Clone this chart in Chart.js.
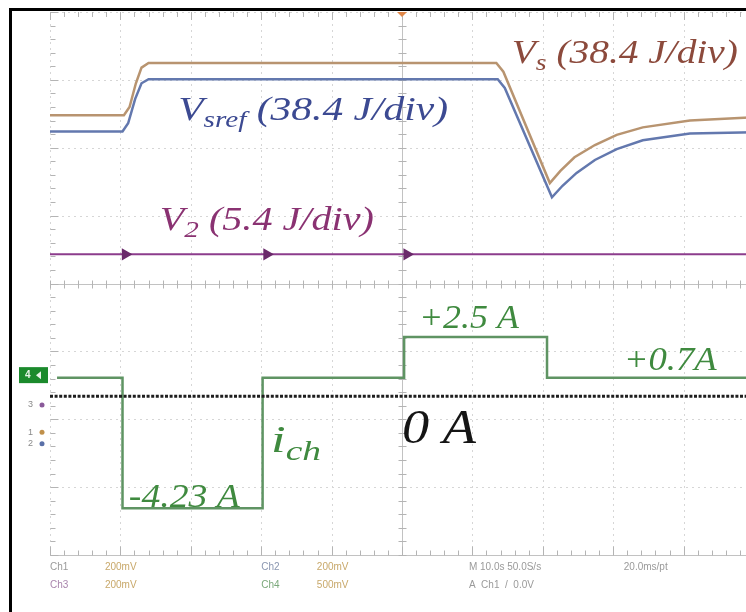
<!DOCTYPE html>
<html>
<head>
<meta charset="utf-8">
<script src="https://cdn.jsdelivr.net/npm/chart.js@4.4.1/dist/chart.umd.min.js"></script>
<style>
  html, body { margin: 0; padding: 0; background: #fff; }
  body { width: 746px; height: 612px; overflow: hidden; position: relative; }
  #wrap { position: absolute; left: 0; top: 0; width: 770px; height: 612px; }
  #frame { position: absolute; left: 9px; top: 8px; right: -20px; bottom: -20px;
           border-left: 3px solid #000; border-top: 3px solid #000; pointer-events: none; }
</style>
</head>
<body>
<div id="wrap"><canvas id="scope"></canvas></div>
<div id="frame"></div>
<script>
// time axis in seconds (10 s/div), levels in screen divisions (8 div high)
const xDivisions = [0, 10, 20, 30, 40, 50, 60, 70, 80, 90, 100];
const yDivisions = [-4, -3, -2, -1, 0, 1, 2, 3, 4];

// V_s trace
const vsTime  = [0, 10.5, 11.3, 12.2, 13.0, 14.0, 63.4, 64.4, 71.0, 72.5, 74.5, 77.4, 80.5, 84.2, 90.9, 100];
const vsLevel = [2.48, 2.48, 2.60, 2.95, 3.18, 3.25, 3.25, 3.12, 1.48, 1.66, 1.86, 2.04, 2.19, 2.30, 2.40, 2.45];

// V_sref trace
const vsrefTime  = [0, 10.3, 11.1, 12.1, 13.0, 14.0, 63.6, 64.6, 71.3, 72.8, 74.8, 77.4, 80.5, 84.2, 90.9, 100];
const vsrefLevel = [2.24, 2.24, 2.36, 2.72, 2.95, 3.01, 3.01, 2.88, 1.27, 1.44, 1.63, 1.82, 1.98, 2.11, 2.21, 2.23];

// V_2 trace (flat) with the arrow marks
const v2Time   = [0, 10.7, 30.8, 50.7, 100];
const v2Level  = [0.43, 0.43, 0.43, 0.43, 0.43];
const v2Arrows = [0, 5, 5, 5, 0];

// i_ch (stepped; each value holds until the next time)
const ichTime  = [1.0, 10.3, 30.2, 50.3, 70.6, 100];
const ichLevel = [-1.39, -3.31, -1.39, -0.79, -1.39, -1.39];

// 0 A reference
const zeroTime  = [0, 100];
const zeroLevel = [-1.66, -1.66];

const pts = (xs, ys) => xs.map((t, i) => ({ x: t, y: ys[i] }));

// annotations placed in data coordinates, fitted to a width in px
const notes = [
  { t: 65.6, v: 3.25, main: 'V', sub: 's', rest: ' (38.4 J/div)', color: '#8c4a3c', size: 34, w: 226 },
  { t: 18.2, v: 2.41, main: 'V', sub: 'sref', rest: ' (38.4 J/div)', color: '#3c4a92', size: 34, w: 270 },
  { t: 15.6, v: 0.79, main: 'V', sub: '2', rest: ' (5.4 J/div)', color: '#8a3272', size: 33, w: 214 },
  { t: 52.4, v: -0.66, main: '+2.5 A', color: '#3f8a3f', size: 34, w: 100 },
  { t: 81.5, v: -1.27, main: '+0.7A', color: '#3f8a3f', size: 34, w: 93 },
  { t: 50.0, v: -2.35, main: '0 A', color: '#151515', size: 48, w: 74 },
  { t: 31.4, v: -2.48, main: 'i', sub: 'ch', color: '#3f8a3f', size: 38, w: 50 },
  { t: 11.2, v: -3.29, main: '-4.23 A', color: '#3f8a3f', size: 34, w: 111 }
];

const statusRows = [
  { t: 0,    row: 0, text: 'Ch1',   color: '#9a9a9a' },
  { t: 7.8,  row: 0, text: '200mV', color: '#c8a86a' },
  { t: 0,    row: 1, text: 'Ch3',   color: '#a884ac' },
  { t: 7.8,  row: 1, text: '200mV', color: '#c8a86a' },
  { t: 30.0, row: 0, text: 'Ch2',   color: '#8a96b0' },
  { t: 37.9, row: 0, text: '200mV', color: '#c8a86a' },
  { t: 30.0, row: 1, text: 'Ch4',   color: '#7aa87a' },
  { t: 37.9, row: 1, text: '500mV', color: '#c8a86a' },
  { t: 59.5, row: 0, text: 'M 10.0s 50.0S/s', color: '#9a9a9a' },
  { t: 81.5, row: 0, text: '20.0ms/pt', color: '#9a9a9a' },
  { t: 59.5, row: 1, text: 'A  Ch1  /  0.0V', color: '#9a9a9a' }
];

const scopeGrid = {
  id: 'scopeGrid',
  beforeDatasetsDraw(chart) {
    const { ctx, chartArea: a, scales: { x, y } } = chart;
    const seg = (x1, y1, x2, y2) => { ctx.beginPath(); ctx.moveTo(x1, y1); ctx.lineTo(x2, y2); ctx.stroke(); };
    ctx.save();
    ctx.lineWidth = 1;
    // dotted major grid
    ctx.strokeStyle = '#d6d6d6';
    ctx.setLineDash([2, 4]);
    xDivisions.forEach(t => { const px = Math.round(x.getPixelForValue(t)) + 0.5; seg(px, a.top, px, a.bottom); });
    yDivisions.forEach(v => { const py = Math.round(y.getPixelForValue(v)) + 0.5; seg(a.left, py, a.right, py); });
    ctx.setLineDash([]);

    const cx = Math.round(x.getPixelForValue(50)) + 0.5;
    const cy = Math.round(y.getPixelForValue(0)) + 0.5;
    const bottom = Math.round(y.getPixelForValue(-4)) + 0.5;
    const left = Math.round(x.getPixelForValue(0)) + 0.5;
    ctx.strokeStyle = '#c2c2c2';
    seg(cx, a.top, cx, a.bottom);
    seg(a.left, cy, a.right, cy);
    seg(a.left, bottom, a.right, bottom);

    ctx.strokeStyle = '#b4b4b4';
    for (let t = 0; t <= 100; t += 2) {
      const px = Math.round(x.getPixelForValue(t)) + 0.5;
      const big = t % 10 === 0;
      seg(px, cy - 4, px, cy + 4);
      seg(px, bottom, px, bottom - (big ? 9 : 5));
      seg(px, a.top, px, a.top + (big ? 8 : 5));
    }
    for (let k = -20; k <= 20; k++) {
      const py = Math.round(y.getPixelForValue(k / 5)) + 0.5;
      seg(cx - 4, py, cx + 4, py);
      seg(left, py, left + (k % 5 === 0 ? 8 : 5), py);
    }
    ctx.restore();
  },
  afterDatasetsDraw(chart) {
    const { ctx, chartArea: a, scales: { x, y } } = chart;
    ctx.save();

    // trace annotations
    notes.forEach(n => {
      const px = x.getPixelForValue(n.t), py = y.getPixelForValue(n.v);
      const mainFont = `italic ${n.size}px "Liberation Serif"`;
      const subFont = `italic ${Math.round(n.size * 0.72)}px "Liberation Serif"`;
      ctx.font = mainFont;
      let width = ctx.measureText(n.main).width;
      if (n.sub) { ctx.font = subFont; width += ctx.measureText(n.sub).width; }
      if (n.rest) { ctx.font = mainFont; width += ctx.measureText(n.rest).width; }
      ctx.save();
      ctx.translate(px, py);
      ctx.scale(n.w / width, 1);
      ctx.fillStyle = n.color;
      ctx.textBaseline = 'alphabetic';
      ctx.font = mainFont;
      ctx.fillText(n.main, 0, 0);
      let cxp = ctx.measureText(n.main).width;
      if (n.sub) {
        ctx.font = subFont;
        ctx.fillText(n.sub, cxp, n.size * 0.22);
        cxp += ctx.measureText(n.sub).width;
      }
      if (n.rest) { ctx.font = mainFont; ctx.fillText(n.rest, cxp, 0); }
      ctx.restore();
    });

    // status text under the graticule
    ctx.font = '10px "Liberation Sans"';
    ctx.textBaseline = 'middle';
    statusRows.forEach(s => {
      ctx.fillStyle = s.color;
      ctx.fillText(s.text, x.getPixelForValue(s.t), a.bottom + 12 + s.row * 18);
    });

    // channel ground markers on the left
    const gy = y.getPixelForValue(-1.35);
    ctx.fillStyle = '#1b8a2c';
    ctx.fillRect(a.left - 31, gy - 8, 29, 16);
    ctx.fillStyle = '#e8f4e8';
    ctx.font = 'bold 10px "Liberation Sans"';
    ctx.fillText('4', a.left - 25, gy);
    ctx.beginPath();
    ctx.moveTo(a.left - 9, gy - 4); ctx.lineTo(a.left - 14, gy); ctx.lineTo(a.left - 9, gy + 4);
    ctx.fill();
    [[-1.79, '3', '#8a5a9a'], [-2.19, '1', '#c0904a'], [-2.36, '2', '#5a70a8']].forEach(([v, lab, col]) => {
      const py = y.getPixelForValue(v);
      ctx.font = '9px "Liberation Sans"';
      ctx.fillStyle = '#8a8a8a';
      ctx.fillText(lab, a.left - 22, py);
      ctx.fillStyle = col;
      ctx.beginPath(); ctx.arc(a.left - 8, py, 2.5, 0, Math.PI * 2); ctx.fill();
    });

    // trigger position mark at the top
    const tx = x.getPixelForValue(50);
    ctx.fillStyle = '#e0884a';
    ctx.beginPath(); ctx.moveTo(tx - 5, a.top); ctx.lineTo(tx + 5, a.top); ctx.lineTo(tx, a.top + 5); ctx.fill();
    ctx.restore();
  }
};

new Chart(document.getElementById('scope'), {
  type: 'line',
  data: {
    datasets: [
      { label: 'zero', data: pts(zeroTime, zeroLevel), borderColor: '#1e1e1e', borderWidth: 3,
        borderDash: [3, 1.6], pointRadius: 0 },
      { label: 'V2', data: pts(v2Time, v2Level), borderColor: '#8c3c8c', borderWidth: 2,
        pointRadius: v2Arrows, pointStyle: 'triangle', rotation: 90,
        pointBackgroundColor: '#6a2a6a', pointBorderColor: '#6a2a6a' },
      { label: 'Vsref', data: pts(vsrefTime, vsrefLevel), borderColor: '#6378ae', borderWidth: 2.5, pointRadius: 0 },
      { label: 'Vs', data: pts(vsTime, vsLevel), borderColor: '#b89470', borderWidth: 2.5, pointRadius: 0 },
      { label: 'ich', data: pts(ichTime, ichLevel), borderColor: '#5f9463', borderWidth: 2.5,
        stepped: 'before', pointRadius: 0 }
    ]
  },
  options: {
    responsive: true,
    maintainAspectRatio: false,
    animation: false,
    layout: { padding: { left: 50, right: 16, top: 12, bottom: 57 } },
    plugins: { legend: { display: false }, tooltip: { enabled: false } },
    scales: {
      x: { type: 'linear', min: 0, max: 100, display: false },
      y: { type: 'linear', min: -4, max: 4, display: false }
    }
  },
  plugins: [scopeGrid]
});
</script>
</body>
</html>
